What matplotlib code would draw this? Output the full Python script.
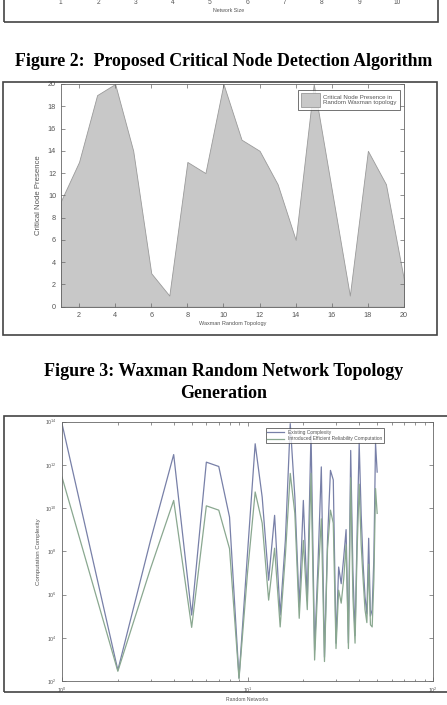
import numpy as np
import matplotlib.pyplot as plt
from matplotlib.patches import Rectangle

W, H = 447, 705

# top fragment (Figure 1 x axis)
size_ticks = [1, 2, 3, 4, 5, 6, 7, 8, 9, 10]

# Figure 2 data: critical node presence per Waxman topology
topology = np.arange(1, 21)
critical_nodes = [9.5, 13, 19, 20, 14, 3, 1, 13, 12, 20,
                  15, 14, 11, 6, 20, 10.5, 1, 14, 11, 2.4]

# Figure 3 data: log10 of complexity per random network
networks = np.arange(1, 51)
existing_log = [13.9, 2.5, 8.5, 12.47, 5.05, 12.12, 11.92, 9.58, 2.15, 7.9,
                12.97, 10.5, 6.66, 9.66, 5.05, 8.5, 13.9, 10.5, 5.43, 10.35,
                5.7, 13.5, 3.43, 7.45, 11.9, 3.1, 8.5, 11.74, 11.3, 3.75,
                7.27, 6.5, 7.7, 9.0, 3.75, 12.66, 7.1, 4.1, 8.9, 13.0,
                9.7, 7.4, 5.9, 5.1, 8.6, 5.0, 5.3, 7.7, 13.0, 11.66]
introduced_log = [11.43, 2.45, 7.2, 10.35, 4.48, 10.1, 9.9, 8.12, 2.1, 7.0,
                  10.74, 9.3, 5.74, 8.14, 4.5, 7.8, 11.6, 9.75, 4.9, 8.5,
                  5.3, 11.6, 2.97, 6.7, 9.5, 2.9, 8.1, 9.9, 9.3, 3.5,
                  6.2, 5.6, 6.7, 8.3, 3.5, 11.4, 5.9, 3.75, 8.1, 11.1,
                  8.3, 6.7, 5.3, 4.7, 7.4, 4.6, 4.5, 6.7, 10.9, 9.75]

plt.rcParams['font.family'] = ['Liberation Sans', 'DejaVu Sans']
txt = '#555555'
frame_c = '#444444'

fig = plt.figure(figsize=(W / 100, H / 100), dpi=100)


def fx(px):
    return px / W


def fy(py):
    return 1 - py / H


def frame(x0, y0, x1, y1):
    fig.add_artist(Rectangle((fx(x0), fy(y1)), fx(x1) - fx(x0), fy(y0) - fy(y1),
                             transform=fig.transFigure, fill=False,
                             ec=frame_c, lw=1.2))


def matlab_style(ax, size=4.8):
    ax.tick_params(direction='in', top=True, right=True, labelsize=size,
                   colors='#666666', labelcolor=txt, length=3, width=0.5)
    ax.tick_params(which='minor', direction='in', top=True, right=True,
                   length=1.8, width=0.5, colors='#666666')
    for s in ax.spines.values():
        s.set_color('#666666')
        s.set_linewidth(0.6)


# --- top fragment ---
frame(3.5, -20, 438, 21.7)
ax0 = fig.add_axes([fx(60.7), fy(-6), fx(396.7) - fx(60.7), 0.05])
ax0.set_xlim(1, 10)
ax0.set_xticks(size_ticks)
ax0.set_yticks([])
matlab_style(ax0)
ax0.set_xlabel('Network Size', fontsize=3.8, color=txt, labelpad=1.5)

fig.text(0.5, fy(61.5), 'Figure 2:  Proposed Critical Node Detection Algorithm',
         ha='center', va='center', fontsize=12.9, fontweight='bold',
         family='Liberation Serif')

# --- Figure 2 area chart ---
frame(3, 82, 437, 335)
ax1 = fig.add_axes([fx(61), fy(306.7), fx(404) - fx(61), fy(84) - fy(306.7)])
ax1.fill_between(topology, critical_nodes, 0, color='#c8c8c8',
                 edgecolor='#9a9a9a', lw=0.6,
                 label='Critical Node Presence in\nRandom Waxman topology')
ax1.set_xlim(1, 20)
ax1.set_ylim(0, 20)
ax1.set_xticks(np.arange(2, 21, 2))
ax1.set_yticks(np.arange(0, 21, 2))
matlab_style(ax1, 5.2)
ax1.set_xlabel('Waxman Random Topology', fontsize=4.0, color=txt, labelpad=2)
ax1.set_ylabel('Critical Node Presence', fontsize=5.6, color=txt, labelpad=4)
leg1 = ax1.legend(loc='upper right', bbox_to_anchor=(0.997, 0.986), fontsize=4.4,
                  frameon=True, fancybox=False, edgecolor='#333333',
                  handlelength=3.0, handleheight=3.2, borderpad=0.5,
                  handletextpad=0.6, labelcolor=txt)
leg1.get_frame().set_linewidth(0.6)

fig.text(0.5, fy(371.5), 'Figure 3: Waxman Random Network Topology',
         ha='center', va='center', fontsize=13, fontweight='bold',
         family='Liberation Serif')
fig.text(0.5, fy(393), 'Generation',
         ha='center', va='center', fontsize=13, fontweight='bold',
         family='Liberation Serif')

# --- Figure 3 log-log chart ---
frame(4, 416, 452, 692)
ax2 = fig.add_axes([fx(62), fy(681), fx(433) - fx(62), fy(421.5) - fy(681)])
ax2.loglog(networks, 10.0 ** np.array(existing_log), color='#7880a8', lw=0.9,
           label='Existing Complexity')
ax2.loglog(networks, 10.0 ** np.array(introduced_log), color='#8aa890', lw=0.9,
           label='Introduced Efficient Reliability Computation')
ax2.set_xlim(1, 100)
ax2.set_ylim(1e2, 1e14)
ax2.set_yticks([10.0 ** k for k in range(2, 15, 2)])
ax2.yaxis.set_minor_locator(plt.NullLocator())
matlab_style(ax2, 3.8)
ax2.set_xlabel('Random Networks', fontsize=3.7, color=txt, labelpad=1)
ax2.set_ylabel('Computation Complexity', fontsize=4.4, color=txt, labelpad=3)
leg2 = ax2.legend(loc='upper left', bbox_to_anchor=(0.542, 0.983), fontsize=3.5,
                  frameon=True, fancybox=False, edgecolor='#333333',
                  handlelength=3.5, borderpad=0.3, labelspacing=0.3,
                  labelcolor=txt)
leg2.get_frame().set_linewidth(0.6)

fig.savefig('out.png', dpi=100)
